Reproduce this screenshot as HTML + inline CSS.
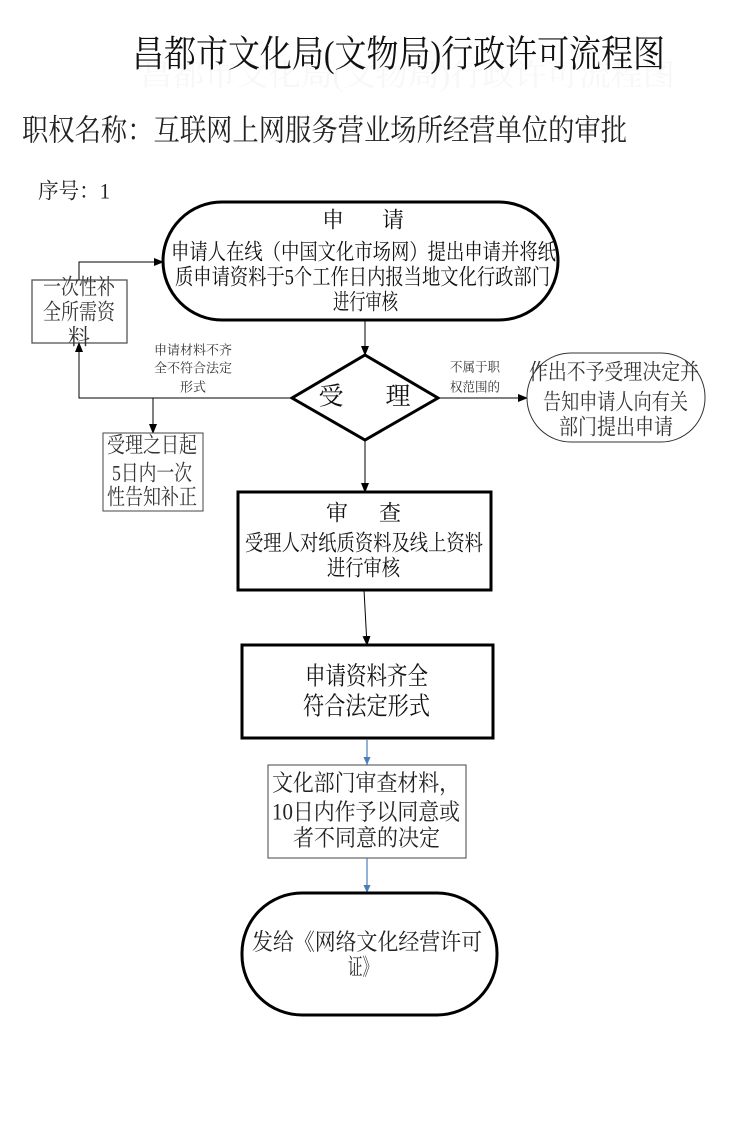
<!DOCTYPE html>
<html><head><meta charset="utf-8"><style>
html,body{margin:0;padding:0;background:#fff;}
svg{display:block;}
text{font-family:"Liberation Serif","Noto Serif CJK SC",serif;fill:#111;}
</style></head><body>
<svg width="745" height="1130" viewBox="0 0 745 1130" xmlns="http://www.w3.org/2000/svg">
<defs>
<marker id="ab" markerWidth="10" markerHeight="10" refX="9" refY="4" orient="auto" markerUnits="userSpaceOnUse"><path d="M0,0 L10,4 L0,8 Z" fill="#000"/></marker>
<marker id="abl" markerWidth="10" markerHeight="10" refX="8" refY="3.5" orient="auto" markerUnits="userSpaceOnUse"><path d="M0,0 L8,3.5 L0,7 Z" fill="#4a7ebb"/></marker>
</defs>
<g dominant-baseline="central">
<!-- ghost title -->
<text x="140" y="76" font-size="30" textLength="535" lengthAdjust="spacingAndGlyphs" style="fill:#f7f7f7">昌都市文化局(文物局)行政许可流程图</text>
<!-- title -->
<text x="132" y="55" font-size="37" textLength="533" lengthAdjust="spacingAndGlyphs">昌都市文化局(文物局)行政许可流程图</text>
<text x="22" y="131" font-size="30" textLength="605" lengthAdjust="spacingAndGlyphs" style="fill:#222">职权名称：互联网上网服务营业场所经营单位的审批</text>
<text x="38" y="191" font-size="22" textLength="72" lengthAdjust="spacingAndGlyphs" style="fill:#222">序号：1</text>

<!-- Apply terminator -->
<rect x="163" y="202" width="395" height="118" rx="59" ry="59" fill="none" stroke="#000" stroke-width="3"/>
<text x="333" y="220" font-size="22" text-anchor="middle">申</text>
<text x="393" y="220" font-size="22" text-anchor="middle">请</text>
<text x="171" y="252" font-size="22" textLength="385" lengthAdjust="spacingAndGlyphs">申请人在线（中国文化市场网）提出申请并将纸</text>
<text x="175" y="277" font-size="22" textLength="375" lengthAdjust="spacingAndGlyphs">质申请资料于5个工作日内报当地文化行政部门</text>
<text x="333" y="302" font-size="22" textLength="65" lengthAdjust="spacingAndGlyphs">进行审核</text>

<!-- left supplement box -->
<rect x="32" y="280" width="95" height="63" fill="#fff" stroke="#555" stroke-width="1.3"/>
<path d="M79,280 V262 H163" fill="none" stroke="#000" stroke-width="1" marker-end="url(#ab)"/>
<text x="43" y="287" font-size="22" textLength="72" lengthAdjust="spacingAndGlyphs" style="fill:#333">一次性补</text>
<text x="43" y="312" font-size="22" textLength="72" lengthAdjust="spacingAndGlyphs" style="fill:#333">全所需资</text>
<text x="79" y="337" font-size="22" text-anchor="middle" style="fill:#333">料</text>

<!-- terminator to diamond -->
<path d="M365,320 V355" stroke="#000" stroke-width="1" fill="none" marker-end="url(#ab)"/>

<!-- diamond -->
<polygon points="365,355 438,398 365,440 292,398" fill="#fff" stroke="#000" stroke-width="3"/>
<text x="331" y="397" font-size="25" text-anchor="middle">受</text>
<text x="398" y="397" font-size="25" text-anchor="middle">理</text>

<!-- left branch -->
<path d="M292,398 H79 V343" fill="none" stroke="#000" stroke-width="1" marker-end="url(#ab)"/>
<path d="M153,398 V433" fill="none" stroke="#000" stroke-width="1" marker-end="url(#ab)"/>
<text x="154" y="350" font-size="13" textLength="78" lengthAdjust="spacingAndGlyphs" style="fill:#333">申请材料不齐</text>
<text x="154" y="368" font-size="13" textLength="78" lengthAdjust="spacingAndGlyphs" style="fill:#333">全不符合法定</text>
<text x="193" y="387" font-size="13" text-anchor="middle" style="fill:#333">形式</text>

<!-- 5 day box -->
<rect x="103" y="433" width="100" height="78" fill="#fff" stroke="#444" stroke-width="1"/>
<text x="107" y="445" font-size="22" textLength="90" lengthAdjust="spacingAndGlyphs" style="fill:#333">受理之日起</text>
<text x="112" y="473" font-size="22" textLength="80" lengthAdjust="spacingAndGlyphs" style="fill:#333">5日内一次</text>
<text x="107" y="497" font-size="22" textLength="90" lengthAdjust="spacingAndGlyphs" style="fill:#333">性告知补正</text>

<!-- right branch -->
<path d="M438,398 H527" fill="none" stroke="#000" stroke-width="1" marker-end="url(#ab)"/>
<text x="450" y="367" font-size="13" textLength="50" lengthAdjust="spacingAndGlyphs" style="fill:#333">不属于职</text>
<text x="450" y="387" font-size="13" textLength="50" lengthAdjust="spacingAndGlyphs" style="fill:#333">权范围的</text>
<rect x="527" y="353" width="178" height="89" rx="44" ry="44" fill="#fff" stroke="#333" stroke-width="1"/>
<text x="529" y="372" font-size="22" textLength="170" lengthAdjust="spacingAndGlyphs" style="fill:#333">作出不予受理决定并</text>
<text x="543" y="402" font-size="22" textLength="145" lengthAdjust="spacingAndGlyphs" style="fill:#333">告知申请人向有关</text>
<text x="559" y="427" font-size="22" textLength="114" lengthAdjust="spacingAndGlyphs" style="fill:#333">部门提出申请</text>

<!-- diamond to review -->
<path d="M365,440 V492" fill="none" stroke="#000" stroke-width="1" marker-end="url(#ab)"/>

<!-- review box -->
<rect x="238" y="492" width="253" height="98" fill="#fff" stroke="#000" stroke-width="3"/>
<text x="337" y="513" font-size="22" text-anchor="middle">审</text>
<text x="390" y="513" font-size="22" text-anchor="middle">查</text>
<text x="245" y="543" font-size="22" textLength="238" lengthAdjust="spacingAndGlyphs">受理人对纸质资料及线上资料</text>
<text x="327" y="568" font-size="22" textLength="73" lengthAdjust="spacingAndGlyphs">进行审核</text>

<path d="M364,590 L367,645" fill="none" stroke="#000" stroke-width="1" marker-end="url(#ab)"/>

<!-- complete box -->
<rect x="242" y="645" width="251" height="93" fill="#fff" stroke="#000" stroke-width="3"/>
<text x="305" y="677" font-size="25" textLength="123" lengthAdjust="spacingAndGlyphs">申请资料齐全</text>
<text x="303" y="707" font-size="25" textLength="127" lengthAdjust="spacingAndGlyphs">符合法定形式</text>

<path d="M367,739 V765" fill="none" stroke="#4a7ebb" stroke-width="1.2" marker-end="url(#abl)"/>

<!-- decision box -->
<rect x="268" y="765" width="198" height="93" fill="#fff" stroke="#444" stroke-width="1"/>
<text x="272" y="783" font-size="23" textLength="188" lengthAdjust="spacingAndGlyphs" style="fill:#222">文化部门审查材料，</text>
<text x="272" y="812" font-size="23" textLength="188" lengthAdjust="spacingAndGlyphs" style="fill:#222">10日内作予以同意或</text>
<text x="293" y="838" font-size="23" textLength="147" lengthAdjust="spacingAndGlyphs" style="fill:#222">者不同意的决定</text>

<path d="M367,858 V893" fill="none" stroke="#4a7ebb" stroke-width="1.2" marker-end="url(#abl)"/>

<!-- final terminator -->
<rect x="242" y="893" width="255" height="122" rx="60" ry="60" fill="#fff" stroke="#000" stroke-width="3"/>
<text x="252" y="942" font-size="23" textLength="230" lengthAdjust="spacingAndGlyphs" style="fill:#222">发给《网络文化经营许可</text>
<text x="348" y="967" font-size="23" textLength="29" lengthAdjust="spacingAndGlyphs" style="fill:#222">证》</text>
</g>
</svg>
</body></html>
